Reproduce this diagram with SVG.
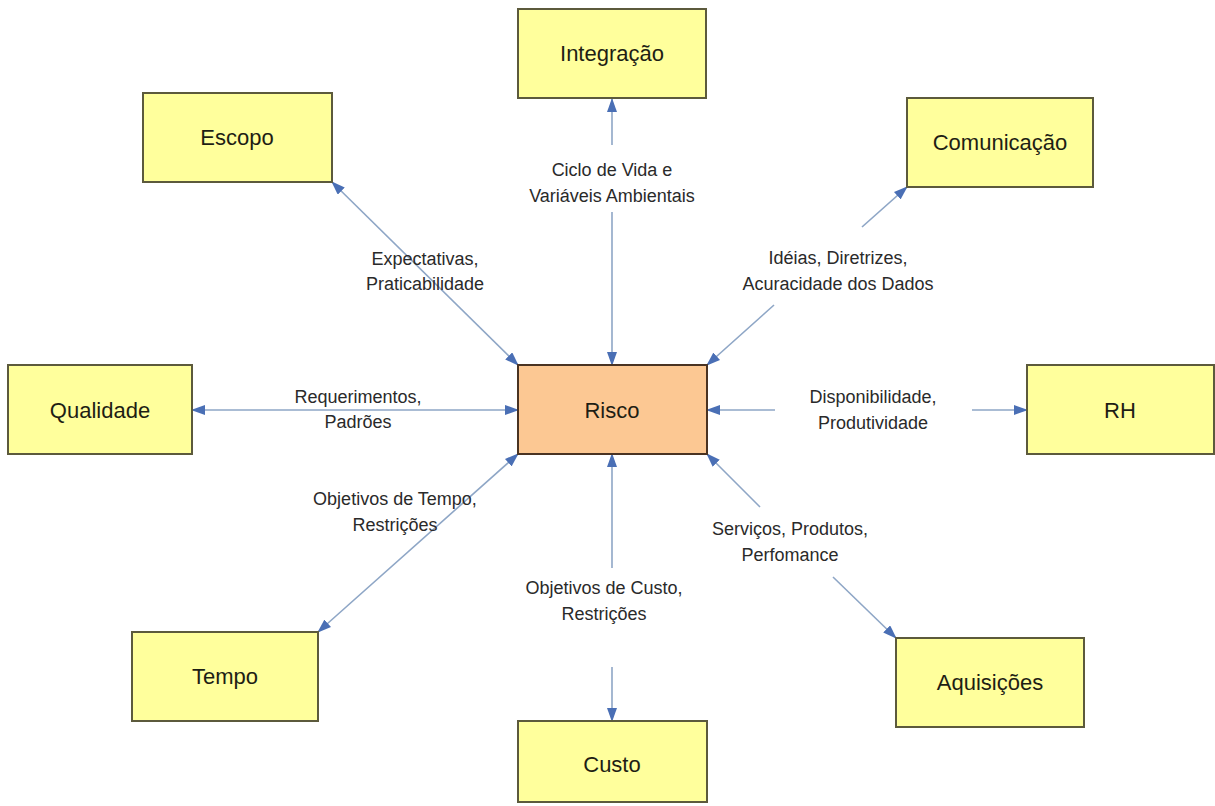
<svg xmlns="http://www.w3.org/2000/svg" width="1215" height="806" viewBox="0 0 1215 806">
  <defs>
    <marker id="arrow" viewBox="0 0 14 10" refX="13" refY="5" markerWidth="14" markerHeight="10" markerUnits="userSpaceOnUse" orient="auto-start-reverse">
      <path d="M0,0 L14,5 L0,10 Z" fill="#4a6fb5"/>
    </marker>
  </defs>
  <style>
    .node { fill: #ffff9c; stroke: #5c5a3c; stroke-width: 2; }
    .core { fill: #fcc893; stroke: #4a3322; stroke-width: 2; }
    .ntext { font-family: "Liberation Sans", Arial, sans-serif; font-size: 22px; fill: #1e1e14; text-anchor: middle; }
    .ltext { font-family: "Liberation Sans", Arial, sans-serif; font-size: 18px; fill: #2a2a2a; text-anchor: middle; }
    .link { fill: none; stroke: #8ea6c6; stroke-width: 1.6; }
    .both { marker-start: url(#arrow); marker-end: url(#arrow); }
    .end { marker-end: url(#arrow); }
  </style>
  <rect width="1215" height="806" fill="#ffffff"/>

  <g id="connectors">
    <!-- Escopo <-> Risco -->
    <path class="link both" d="M332,182 L518,365"/>
    <!-- Integração <-> Risco (split around label) -->
    <path class="link end" d="M612,145 L612,99"/>
    <path class="link end" d="M612,212 L612,365"/>
    <!-- Comunicação <-> Risco -->
    <path class="link end" d="M862,227 L907,187"/>
    <path class="link end" d="M774,305 L707,365"/>
    <!-- Qualidade <-> Risco -->
    <path class="link both" d="M192,410 L518,410"/>
    <!-- RH <-> Risco -->
    <path class="link end" d="M775,410 L707,410"/>
    <path class="link end" d="M972,410 L1027,410"/>
    <!-- Tempo <-> Risco -->
    <path class="link both" d="M318,632 L518,454"/>
    <!-- Custo <-> Risco -->
    <path class="link end" d="M612,568 L612,454"/>
    <path class="link end" d="M612,667 L612,721"/>
    <!-- Aquisições <-> Risco -->
    <path class="link end" d="M760,507 L707,454"/>
    <path class="link end" d="M833,577 L896,638"/>
  </g>

  <g id="labels">
    <text class="ltext" x="612" y="176">Ciclo de Vida e</text>
    <text class="ltext" x="612" y="202">Variáveis Ambientais</text>
    <text class="ltext" x="425" y="265">Expectativas,</text>
    <text class="ltext" x="425" y="290">Praticabilidade</text>
    <text class="ltext" x="838" y="264">Idéias, Diretrizes,</text>
    <text class="ltext" x="838" y="290">Acuracidade dos Dados</text>
    <text class="ltext" x="358" y="403">Requerimentos,</text>
    <text class="ltext" x="358" y="428">Padrões</text>
    <text class="ltext" x="873" y="403">Disponibilidade,</text>
    <text class="ltext" x="873" y="429">Produtividade</text>
    <text class="ltext" x="395" y="505">Objetivos de Tempo,</text>
    <text class="ltext" x="395" y="531">Restrições</text>
    <text class="ltext" x="790" y="535">Serviços, Produtos,</text>
    <text class="ltext" x="790" y="561">Perfomance</text>
    <text class="ltext" x="604" y="594">Objetivos de Custo,</text>
    <text class="ltext" x="604" y="620">Restrições</text>
  </g>

  <g id="node-risco">
    <rect class="core" x="518" y="365" width="189" height="89"/>
    <text class="ntext" x="612" y="418">Risco</text>
  </g>
  <g id="node-escopo">
    <rect class="node" x="143" y="93" width="189" height="89"/>
    <text class="ntext" x="237" y="145">Escopo</text>
  </g>
  <g id="node-integracao">
    <rect class="node" x="518" y="9" width="188" height="89"/>
    <text class="ntext" x="612" y="61">Integração</text>
  </g>
  <g id="node-comunicacao">
    <rect class="node" x="907" y="98" width="186" height="89"/>
    <text class="ntext" x="1000" y="150">Comunicação</text>
  </g>
  <g id="node-qualidade">
    <rect class="node" x="8" y="365" width="184" height="89"/>
    <text class="ntext" x="100" y="418">Qualidade</text>
  </g>
  <g id="node-rh">
    <rect class="node" x="1027" y="365" width="187" height="89"/>
    <text class="ntext" x="1120" y="418">RH</text>
  </g>
  <g id="node-tempo">
    <rect class="node" x="132" y="632" width="186" height="89"/>
    <text class="ntext" x="225" y="684">Tempo</text>
  </g>
  <g id="node-aquisicoes">
    <rect class="node" x="896" y="638" width="188" height="89"/>
    <text class="ntext" x="990" y="690">Aquisições</text>
  </g>
  <g id="node-custo">
    <rect class="node" x="518" y="721" width="189" height="81"/>
    <text class="ntext" x="612" y="772">Custo</text>
  </g>
</svg>
